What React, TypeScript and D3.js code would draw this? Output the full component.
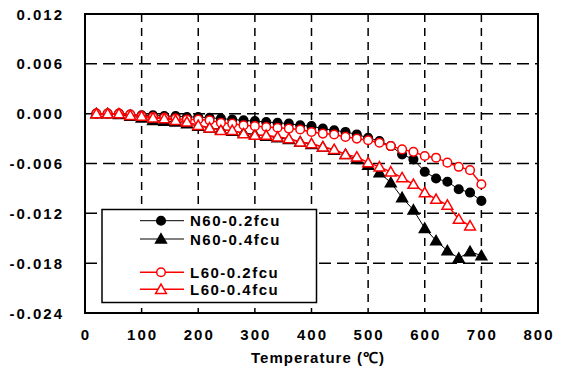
import * as d3 from "d3";

// Temperature (°C) sampled every 20 degrees
const temps = [20, 40, 60, 80, 100, 120, 140, 160, 180, 200, 220, 240, 260, 280, 300, 320, 340, 360, 380, 400, 420, 440, 460, 480, 500, 520, 540, 560, 580, 600, 620, 640, 660, 680, 700];

const n60_02 = [0, 0, 0, -0.0001, -0.0002, -0.0002, -0.0003, -0.0003, -0.0004, -0.0004, -0.0005, -0.0006, -0.0007, -0.0008, -0.0009, -0.001, -0.0011, -0.0012, -0.0014, -0.0015, -0.0018, -0.002, -0.0022, -0.0025, -0.0029, -0.0033, -0.0039, -0.0049, -0.0055, -0.007, -0.0078, -0.0082, -0.0091, -0.0095, -0.0105];
const n60_04 = [0, 0, -0.0001, -0.0003, -0.0005, -0.0008, -0.0009, -0.001, -0.0012, -0.0015, -0.0017, -0.0019, -0.0021, -0.0023, -0.0025, -0.0027, -0.0029, -0.0031, -0.0034, -0.0037, -0.004, -0.0044, -0.0049, -0.0055, -0.0062, -0.0071, -0.0083, -0.0101, -0.0116, -0.0138, -0.0153, -0.0165, -0.0174, -0.0166, -0.0171];
const l60_02 = [0, 0, 0, -0.0001, -0.0003, -0.0004, -0.0005, -0.0006, -0.0007, -0.0007, -0.0008, -0.0011, -0.0012, -0.0014, -0.0015, -0.0016, -0.0017, -0.0018, -0.0019, -0.0022, -0.0024, -0.0025, -0.0028, -0.003, -0.0032, -0.0035, -0.0039, -0.0043, -0.0046, -0.0051, -0.0053, -0.0059, -0.0064, -0.0068, -0.0085];
const l60_04 = [0, 0, 0, -0.0002, -0.0003, -0.0005, -0.0006, -0.0008, -0.001, -0.0014, -0.0017, -0.002, -0.002, -0.0024, -0.0026, -0.0026, -0.0028, -0.003, -0.0034, -0.0036, -0.004, -0.0043, -0.0049, -0.0052, -0.0059, -0.0064, -0.007, -0.0077, -0.0085, -0.0095, -0.0103, -0.011, -0.0127, -0.0135];

const xTicks = [0, 100, 200, 300, 400, 500, 600, 700, 800];
const yTicks = [0.012, 0.006, 0, -0.006, -0.012, -0.018, -0.024];

const series = [
  { name: "N60-0.2fcu", values: n60_02, color: "#000", marker: "circle", filled: true, lw: 1 },
  { name: "N60-0.4fcu", values: n60_04, color: "#000", marker: "triangle", filled: true, lw: 1 },
  { name: "L60-0.2fcu", values: l60_02, color: "#ff0000", marker: "circle", filled: false, lw: 1.5 },
  { name: "L60-0.4fcu", values: l60_04, color: "#ff0000", marker: "triangle", filled: false, lw: 1.5 },
];

const W = 565;
const H = 369;
const m = { left: 85, top: 14, right: 538, bottom: 313 };
const font = "'Liberation Sans', Arial, sans-serif";

const x = d3.scaleLinear().domain([0, 800]).range([m.left, m.right]);
const y = d3.scaleLinear().domain([-0.024, 0.012]).range([m.bottom, m.top]);
const tri = d3.symbol(d3.symbolTriangle, 50)()!;

function Marker({ cx, cy, s }: { cx: number; cy: number; s: (typeof series)[number] }) {
  const fill = s.filled ? s.color : "#fff";
  if (s.marker === "circle")
    return <circle cx={cx} cy={cy} r={4.3} fill={fill} stroke={s.color} strokeWidth={1.5} />;
  return <path d={tri} transform={`translate(${cx},${cy + 1})`} fill={fill} stroke={s.color} strokeWidth={1.5} />;
}

export default function App() {
  const line = d3.line<number>().x((_, i) => x(temps[i])).y((d) => y(d));
  const legendRows = [220.7, 239, 272.3, 289.3];
  const labelStyle = { fontFamily: font, fontSize: 15, fontWeight: 700, letterSpacing: 2 } as const;

  return (
    <svg width={W} height={H} style={{ position: "absolute", left: 0, top: 0, background: "#fff" }}>
      {/* grid */}
      {xTicks.slice(1, -1).map((t) => (
        <line key={"gx" + t} x1={x(t)} x2={x(t)} y1={m.top} y2={m.bottom} stroke="#000" strokeWidth={1.5} strokeDasharray="8,6" />
      ))}
      {yTicks.slice(1, -1).map((t) => (
        <line key={"gy" + t} x1={m.left} x2={m.right} y1={y(t)} y2={y(t)} stroke="#000" strokeWidth={1.5} strokeDasharray="12,6" />
      ))}
      <rect x={m.left} y={m.top} width={m.right - m.left} height={m.bottom - m.top} fill="none" stroke="#000" strokeWidth={2} />

      {/* tick labels */}
      {yTicks.map((t) => (
        <text key={"ty" + t} x={64} y={y(t) + 5.5} textAnchor="end" {...labelStyle}>
          {d3.format(".3f")(t).replace("−", "-")}
        </text>
      ))}
      {xTicks.map((t) => (
        <text key={"tx" + t} x={x(t) + 1} y={340} textAnchor="middle" {...labelStyle}>
          {t}
        </text>
      ))}
      <text x={318} y={363} textAnchor="middle" {...labelStyle} letterSpacing={1}>
        Temperature (℃)
      </text>

      {/* series */}
      {series.map((s) => (
        <g key={s.name}>
          <path d={line(s.values)!} fill="none" stroke={s.color} strokeWidth={s.lw} />
          {s.values.map((v, i) => (
            <Marker key={i} cx={x(temps[i])} cy={y(v)} s={s} />
          ))}
        </g>
      ))}

      {/* legend */}
      <rect x={102} y={209.5} width={214.5} height={93} fill="#fff" stroke="#000" strokeWidth={1.5} />
      {series.map((s, i) => (
        <g key={"lg" + s.name}>
          <line x1={140} x2={184} y1={legendRows[i]} y2={legendRows[i]} stroke={s.color} strokeWidth={s.lw} />
          <Marker cx={161} cy={legendRows[i]} s={s} />
          <text x={190} y={legendRows[i] + 5.5} {...labelStyle} letterSpacing={1.5}>
            {s.name}
          </text>
        </g>
      ))}
    </svg>
  );
}
